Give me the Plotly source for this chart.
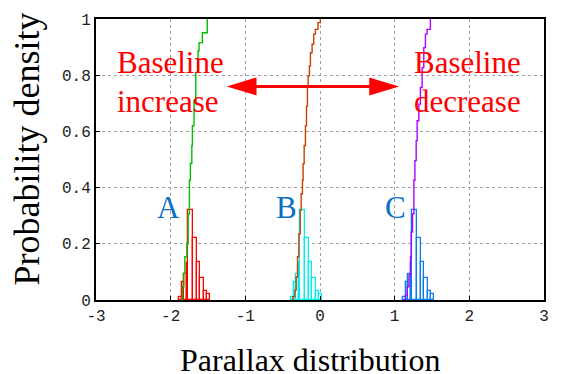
import plotly.graph_objects as go

# ---------------- data ----------------
# histogram A (red)
hist_a_edges = [-1.885, -1.854, -1.818, -1.787, -1.765, -1.705, -1.645, -1.605, -1.552, -1.51, -1.47]
hist_a_heights = [0.012, 0.065, 0.092, 0.13, 0.32, 0.22, 0.136, 0.08, 0.033, 0.02]
# histogram B (cyan)
hist_b_edges = [-0.385, -0.354, -0.318, -0.287, -0.265, -0.205, -0.145, -0.105, -0.052, -0.01, 0.03]
hist_b_heights = [0.012, 0.065, 0.092, 0.13, 0.32, 0.22, 0.136, 0.08, 0.033, 0.02]
# histogram C (blue)
hist_c_edges = [1.115, 1.146, 1.182, 1.213, 1.235, 1.295, 1.355, 1.395, 1.448, 1.49, 1.53]
hist_c_heights = [0.012, 0.065, 0.092, 0.13, 0.32, 0.22, 0.136, 0.08, 0.033, 0.02]

# cumulative curves
cdf_a_x = [-1.875, -1.842, -1.823, -1.81, -1.783, -1.766, -1.749, -1.736, -1.717, -1.709,
           -1.687, -1.664, -1.633, -1.62, -1.576, -1.51]
cdf_a_y = [0.0, 0.047, 0.095, 0.154, 0.2, 0.307, 0.426, 0.486, 0.55, 0.62,
           0.709, 0.81, 0.887, 0.916, 0.951, 1.0]
cdf_b_x = [-0.381, -0.363, -0.336, -0.319, -0.301, -0.283, -0.265, -0.252, -0.235, -0.226,
           -0.212, -0.195, -0.181, -0.168, -0.159, -0.142, -0.128, -0.106, -0.084, -0.062,
           -0.027, 0.004]
cdf_b_y = [0.0, 0.012, 0.035, 0.083, 0.154, 0.236, 0.319, 0.378, 0.426, 0.485,
           0.55, 0.62, 0.69, 0.756, 0.798, 0.833, 0.88, 0.91, 0.946, 0.963,
           0.987, 1.0]
cdf_c_x = [1.125, 1.146, 1.169, 1.191, 1.212, 1.222, 1.239, 1.257, 1.271, 1.288,
           1.301, 1.324, 1.345, 1.368, 1.39, 1.412, 1.434, 1.478]
cdf_c_y = [0.0, 0.018, 0.047, 0.089, 0.154, 0.242, 0.307, 0.426, 0.496, 0.567,
           0.638, 0.697, 0.756, 0.827, 0.898, 0.946, 0.963, 1.0]

x_tick_vals = [-3, -2, -1, 0, 1, 2, 3]
x_tick_text = ["-3", "-2", "-1", "0", "1", "2", "3"]
y_tick_vals = [0, 0.2, 0.4, 0.6, 0.8, 1]
y_tick_text = ["0", "0.2", "0.4", "0.6", "0.8", "1"]

labels = ["A", "B", "C"]
label_x = [-2.03, -0.45, 1.01]
label_y = [0.33, 0.33, 0.33]

arrow_left_tip = -1.25
arrow_right_tip = 1.06
arrow_y = 0.76

SERIF = "Liberation Serif, Times New Roman, serif"
MONO = "Liberation Mono, DejaVu Sans Mono, monospace"

fig = go.Figure()

def add_hist(edges, heights, color):
    centers = [(edges[i] + edges[i + 1]) / 2 for i in range(len(heights))]
    widths = [edges[i + 1] - edges[i] for i in range(len(heights))]
    fig.add_trace(go.Bar(x=centers, y=heights, width=widths,
                         marker=dict(color="white", line=dict(color=color, width=1.3)),
                         showlegend=False, hoverinfo="skip"))

add_hist(hist_a_edges, hist_a_heights, "#ff0000")
add_hist(hist_b_edges, hist_b_heights, "#00f0f0")
add_hist(hist_c_edges, hist_c_heights, "#0a7cf0")

def add_cdf(xs, ys, color):
    fig.add_trace(go.Scatter(x=xs, y=ys, mode="lines", line=dict(color=color, width=1.4, shape="hv"),
                             showlegend=False, hoverinfo="skip"))

add_cdf(cdf_a_x, cdf_a_y, "#00c000")
add_cdf(cdf_b_x, cdf_b_y, "#c84000")
add_cdf(cdf_c_x, cdf_c_y, "#b000ff")

# A, B, C labels
for t, lx, ly in zip(labels, label_x, label_y):
    fig.add_annotation(x=lx, y=ly, xref="x", yref="y", text=t, showarrow=False,
                       font=dict(family=SERIF, size=31, color="#0a6fc0"),
                       xanchor="center", yanchor="middle")

# Baseline texts
for txt, x0, y0 in [("Baseline", -2.75, 0.845), ("increase", -2.75, 0.705),
                    ("Baseline", 1.235, 0.845), ("decrease", 1.235, 0.705)]:
    fig.add_annotation(x=x0, y=y0, xref="x", yref="y", text=txt, showarrow=False,
                       font=dict(family=SERIF, size=31, color="#ff0000"),
                       xanchor="left", yanchor="middle")

# double-headed arrow
head_len = 0.4
head_half = 0.032
fig.add_shape(type="line", x0=arrow_left_tip + head_len * 0.8, x1=arrow_right_tip - head_len * 0.8,
              y0=arrow_y, y1=arrow_y, xref="x", yref="y", line=dict(color="#ff0000", width=3))
fig.add_shape(type="path", xref="x", yref="y",
              path=f"M {arrow_left_tip} {arrow_y} L {arrow_left_tip + head_len} {arrow_y + head_half} "
                   f"L {arrow_left_tip + head_len} {arrow_y - head_half} Z",
              fillcolor="#ff0000", line=dict(color="#ff0000", width=0))
fig.add_shape(type="path", xref="x", yref="y",
              path=f"M {arrow_right_tip} {arrow_y} L {arrow_right_tip - head_len} {arrow_y + head_half} "
                   f"L {arrow_right_tip - head_len} {arrow_y - head_half} Z",
              fillcolor="#ff0000", line=dict(color="#ff0000", width=0))

# axis titles
fig.add_annotation(x=0.478, y=-0.212, xref="paper", yref="paper", text="Parallax distribution",
                   showarrow=False, font=dict(family=SERIF, size=32, color="#000000"),
                   xanchor="center", yanchor="middle")
fig.add_annotation(x=-0.153, y=0.537, xref="paper", yref="paper", text="Probability density",
                   showarrow=False, textangle=-90, font=dict(family=SERIF, size=36, color="#000000"),
                   xanchor="center", yanchor="middle")

fig.update_layout(
    width=561, height=374,
    margin=dict(l=96, r=13, t=18, b=74),
    paper_bgcolor="white", plot_bgcolor="white",
    barmode="overlay", bargap=0,
    showlegend=False,
)
fig.update_xaxes(range=[-3, 3], tickvals=x_tick_vals, ticktext=x_tick_text,
                 showgrid=True, gridcolor="#a0a0a0", griddash="dot", gridwidth=1,
                 showline=True, linecolor="black", linewidth=2, mirror=True,
                 ticks="inside", ticklen=4, tickcolor="black", zeroline=False,
                 tickfont=dict(family=MONO, size=16, color="#222222"))
fig.update_yaxes(range=[0, 1], tickvals=y_tick_vals, ticktext=y_tick_text,
                 showgrid=True, gridcolor="#a0a0a0", griddash="dot", gridwidth=1,
                 showline=True, linecolor="black", linewidth=2, mirror=True,
                 ticks="inside", ticklen=4, tickcolor="black", zeroline=False,
                 tickfont=dict(family=MONO, size=16, color="#222222"))

fig.write_html("out.html", config={"displayModeBar": False},
               post_script="document.body.style.margin='0';document.body.style.padding='0';")
